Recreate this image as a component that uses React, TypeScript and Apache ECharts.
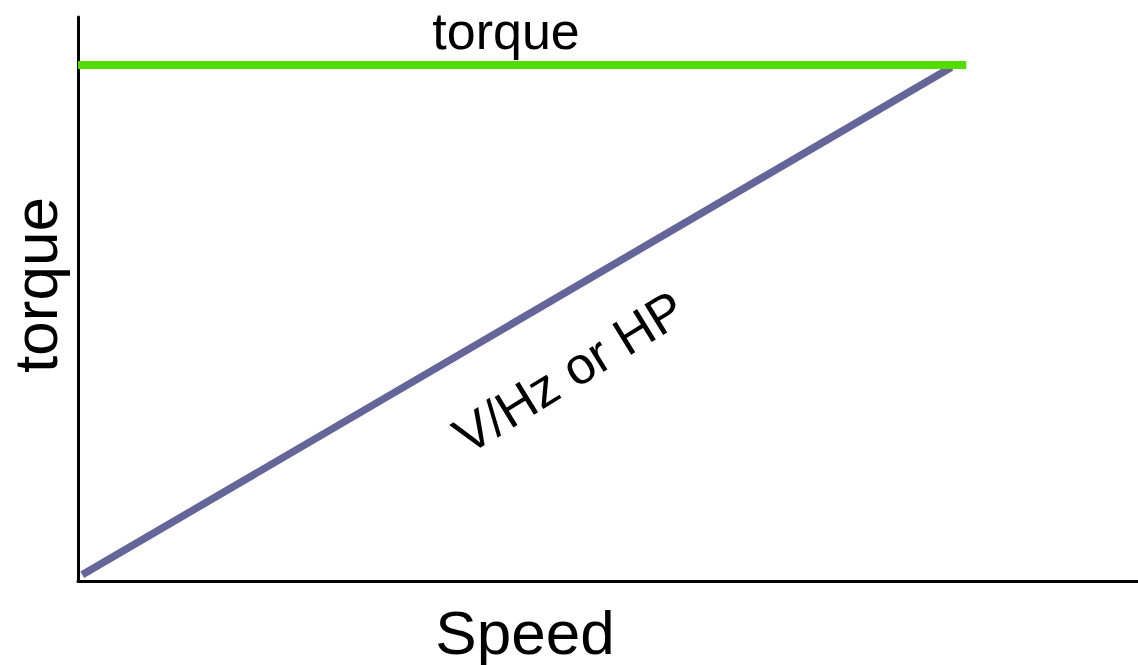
import React, { useEffect, useRef } from "react";
import * as echarts from "echarts";

const torqueLine: number[][] = [
  [0, 91.5],
  [83.8, 91.5],
];
const vhzLine: number[][] = [
  [0.4, 1.1],
  [82.4, 91.1],
];
const xAxisName = "Speed";
const yAxisName = "torque";
const torqueLabel = "torque";
const vhzLabel = "V/Hz or HP";

const FONT = "'Liberation Sans', Arial, Helvetica, sans-serif";

export default function App() {
  const ref = useRef<HTMLDivElement>(null);
  useEffect(() => {
    if (!ref.current) return;
    const chart = echarts.init(ref.current, undefined, { renderer: "svg" });
    chart.setOption({
      animation: false,
      backgroundColor: "#ffffff",
      grid: { left: 78, right: 0, top: 17, bottom: 84 },
      xAxis: {
        type: "value",
        min: 0,
        max: 100,
        axisLine: { show: true, lineStyle: { color: "#000", width: 3 } },
        axisTick: { show: false },
        axisLabel: { show: false },
        splitLine: { show: false },
      },
      yAxis: {
        type: "value",
        min: 0,
        max: 100,
        axisLine: { show: true, lineStyle: { color: "#000", width: 3 } },
        axisTick: { show: false },
        axisLabel: { show: false },
        splitLine: { show: false },
      },
      series: [
        {
          type: "line",
          data: vhzLine,
          symbol: "none",
          lineStyle: { color: "#65659a", width: 7.5, cap: "butt" },
          z: 2,
        },
        {
          type: "line",
          data: torqueLine,
          symbol: "none",
          lineStyle: { color: "#52dc00", width: 8, cap: "butt" },
          z: 3,
        },
      ],
      graphic: [
        {
          type: "text",
          x: 506,
          y: 31,
          style: {
            text: torqueLabel,
            font: `52px ${FONT}`,
            fill: "#000",
            align: "center",
            verticalAlign: "middle",
          },
        },
        {
          type: "text",
          x: 525,
          y: 632,
          style: {
            text: xAxisName,
            font: `62px ${FONT}`,
            fill: "#000",
            align: "center",
            verticalAlign: "middle",
          },
        },
        {
          type: "text",
          x: 35,
          y: 285,
          rotation: Math.PI / 2,
          style: {
            text: yAxisName,
            font: `62px ${FONT}`,
            fill: "#000",
            align: "center",
            verticalAlign: "middle",
          },
        },
        {
          type: "text",
          x: 569,
          y: 372,
          rotation: (31.7 * Math.PI) / 180,
          style: {
            text: vhzLabel,
            font: `52px ${FONT}`,
            fill: "#000",
            align: "center",
            verticalAlign: "middle",
          },
        },
      ],
    });
    return () => chart.dispose();
  }, []);
  return (
    <div
      ref={ref}
      style={{ position: "fixed", left: 0, top: 0, width: 1138, height: 665 }}
    />
  );
}
